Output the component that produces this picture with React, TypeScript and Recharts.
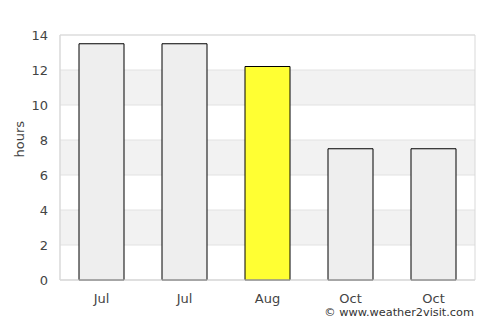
import { BarChart, Bar, XAxis, YAxis, CartesianGrid, Cell, ReferenceArea } from "recharts";

const months = ["Jul", "Jul", "Aug", "Oct", "Oct"];
const hours = [13.5, 13.5, 12.2, 7.5, 7.5];
const highlight = [false, false, true, false, false];
const yTicks = [0, 2, 4, 6, 8, 10, 12, 14];

const data = months.map((m, i) => ({ month: m, hours: hours[i], hl: highlight[i] }));

export default function App() {
    return (
        <div style={{ position: "absolute", left: 0, top: 0, width: 500, height: 325, background: "#fff", fontFamily: "'DejaVu Sans', sans-serif" }}>
            <BarChart
                width={500}
                height={325}
                data={data}
                margin={{ top: 35, right: 25, left: 0, bottom: 15 }}
                barCategoryGap={19}
            >
                <CartesianGrid
                    vertical={false}
                    stroke="#e2e2e2"
                    horizontalFill={["#ffffff", "#f2f2f2"]}
                    fillOpacity={1}
                />
                <ReferenceArea y1={0} y2={14} fill="none" stroke="#d9d9d9" ifOverflow="visible" />
                <XAxis
                    dataKey="month"
                    axisLine={{ stroke: "#d9d9d9" }}
                    tickLine={false}
                    tick={{ fill: "#444", fontSize: 13 }}
                    tickMargin={8}
                    height={30}
                />
                <YAxis
                    width={60}
                    domain={[0, 14]}
                    ticks={yTicks}
                    axisLine={{ stroke: "#d9d9d9" }}
                    tickLine={false}
                    tick={{ fill: "#444", fontSize: 13 }}
                    tickMargin={6}
                    label={{ value: "hours", angle: -90, position: "insideLeft", offset: 19, fill: "#444", fontSize: 13 }}
                />
                <Bar dataKey="hours" stroke="#000" strokeWidth={1} isAnimationActive={false}>
                    {data.map((d, i) => (
                        <Cell key={i} fill={d.hl ? "#ffff33" : "#eeeeee"} />
                    ))}
                </Bar>
            </BarChart>
            <div style={{ position: "absolute", right: 26, top: 306, fontSize: 11.3, color: "#333" }}>
                © www.weather2visit.com
            </div>
        </div>
    );
}
